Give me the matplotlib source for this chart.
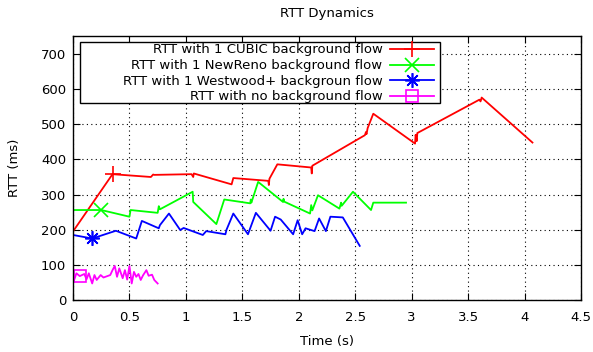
import numpy as np
import matplotlib
matplotlib.use("Agg")
import matplotlib.pyplot as plt
from matplotlib.lines import Line2D
from matplotlib.patches import Rectangle

# RTT traces (time in s, RTT in ms)
cubic_t = [0.0, 0.35, 0.69, 0.71, 0.72, 1.05, 1.065, 1.07, 1.405, 1.42, 1.73, 1.735, 1.74, 1.81, 2.11, 2.115, 2.12,
           2.586, 2.595, 2.60, 2.61, 2.66, 3.03, 3.035, 3.045, 3.05, 3.60, 3.61, 3.62, 4.07]
cubic_rtt = [195, 358, 350, 357, 356, 358, 350, 360, 329, 347, 339, 327, 345, 386, 377, 360, 382,
             469, 478, 472, 489, 530, 445, 470, 452, 475, 570, 565, 576, 448]

newreno_t = [0.0, 0.25, 0.50, 0.51, 0.75, 0.76, 0.77, 1.06, 1.065, 1.27, 1.34, 1.57, 1.575, 1.58, 1.64,
             1.86, 1.865, 1.87, 2.10, 2.11, 2.12, 2.17, 2.36, 2.375, 2.38, 2.48, 2.64, 2.66, 2.95]
newreno_rtt = [256, 256, 237, 256, 248, 267, 258, 308, 279, 216, 286, 275, 286, 277, 336,
               279, 288, 280, 246, 270, 255, 298, 260, 277, 268, 308, 256, 277, 277]

westwood_t = [0.0, 0.17, 0.38, 0.56, 0.61, 0.76, 0.77, 0.85, 0.95, 0.98, 1.15, 1.18, 1.35, 1.36, 1.42,
              1.55, 1.62, 1.75, 1.79, 1.84, 1.95, 1.99, 2.03, 2.06, 2.14, 2.18, 2.24, 2.28, 2.39, 2.54]
westwood_rtt = [185, 175, 197, 175, 225, 204, 213, 246, 199, 205, 185, 196, 187, 200, 246,
                187, 248, 197, 237, 229, 187, 227, 187, 204, 196, 232, 196, 237, 235, 154]

nobg_t = [0.0, 0.03, 0.06, 0.10, 0.12, 0.14, 0.17, 0.19, 0.21, 0.245, 0.27, 0.33, 0.35, 0.37, 0.39, 0.41,
          0.44, 0.46, 0.48, 0.50, 0.52, 0.54, 0.56, 0.58, 0.60, 0.62, 0.65, 0.67, 0.70, 0.72, 0.75]
nobg_rtt = [47, 76, 68, 74, 59, 76, 47, 71, 57, 71, 64, 71, 85, 97, 66, 90,
            62, 85, 58, 97, 47, 80, 66, 74, 57, 70, 85, 69, 72, 57, 47]

labels = ["RTT with 1 CUBIC background flow",
          "RTT with 1 NewReno background flow",
          "RTT with 1 Westwood+ backgroun flow",
          "RTT with no background flow"]
colors = ["#ff0000", "#00ff00", "#0000ff", "#ff00ff"]
markers = ["+", "x", (8, 2, 0), "s"]
msizes = [11, 10, 10.5, 8]
mark_idx = [1, 1, 1, 2]

series = [(cubic_t, cubic_rtt), (newreno_t, newreno_rtt),
          (westwood_t, westwood_rtt), (nobg_t, nobg_rtt)]

W, H = 593, 352
fig = plt.figure(figsize=(W/100, H/100), dpi=100)
ax = fig.add_axes([73/W, 1-300/H, (581-73)/W, (300-36.4)/H])

handles = []
for (t, r), lab, c, m, ms, i in zip(series, labels, colors, markers, msizes, mark_idx):
    ax.plot(t, r, color=c, lw=1.3)
    mfc = "none" if m == "s" else c
    ax.plot(t[i], r[i], linestyle="none", marker=m, color=c, mfc=mfc, ms=ms, mew=1.2)
    handles.append(Line2D([], [], color=c, lw=1.3, marker=m, mfc=mfc, ms=ms, mew=1.2))

ax.set_xlim(0, 4.5)
ax.set_ylim(0, 750)
ax.set_xticks(np.arange(0, 4.51, 0.5))
ax.set_xticklabels(["0", "0.5", "1", "1.5", "2", "2.5", "3", "3.5", "4", "4.5"])
ax.set_yticks(np.arange(0, 701, 100))
ax.tick_params(direction="in", top=True, right=True, length=5, labelsize=9.5)
ax.tick_params(axis="x", pad=8)
ax.tick_params(axis="y", pad=5)
ax.grid(True, color="black", linestyle=(0, (1, 3)), lw=0.8)
for s in ax.spines.values():
    s.set_linewidth(1.0)

ax.set_xlabel("Time (s)", fontsize=9.5, labelpad=8)
ax.set_ylabel("RTT (ms)", fontsize=9.5, labelpad=14)
ax.set_title("RTT Dynamics", fontsize=9.5, pad=14)

# gnuplot-style key: wide box, right-aligned text
box = Rectangle((80/W, 1-103/H), 360/W, 61/H, transform=fig.transFigure,
                facecolor="white", edgecolor="black", lw=1.0, zorder=4)
ax.add_patch(box)
leg = ax.legend(handles, labels, loc="upper right", markerfirst=False, fontsize=9.5,
                frameon=False, bbox_to_anchor=(434/W, 1-43.5/H), bbox_transform=fig.transFigure,
                borderaxespad=0, borderpad=0, labelspacing=0.2,
                handlelength=3.3, handletextpad=0.6)
leg.set_zorder(5)

fig.savefig("out.png", dpi=100)
